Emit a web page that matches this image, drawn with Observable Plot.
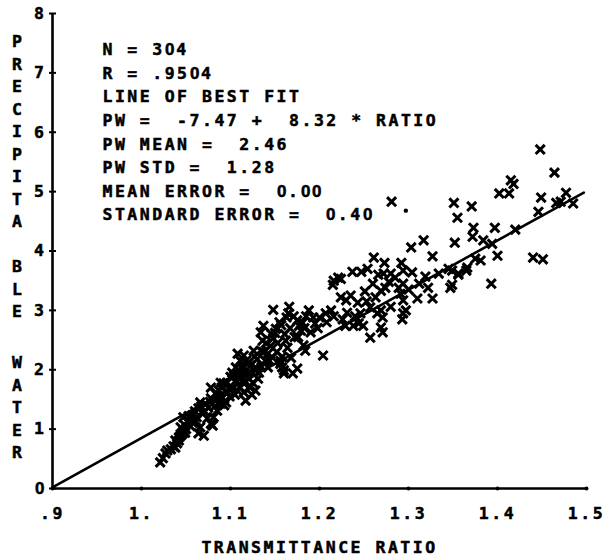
<!DOCTYPE html>
<html><head><meta charset="utf-8">
<script src="https://cdn.jsdelivr.net/npm/d3@7"></script>
<script src="https://cdn.jsdelivr.net/npm/@observablehq/plot@0.6"></script>
<style>
@font-face{font-family:"PlainZero";src:local("Liberation Sans Bold"),local("LiberationSans-Bold");font-weight:700;unicode-range:U+0030;}
body{margin:0;background:#fff;}
#wrap{position:relative;width:604px;height:556px;}
svg text, svg tspan{white-space:pre;letter-spacing:2.5px;stroke:#000;stroke-width:0.5px;}
.ylab{position:absolute;left:10px;width:14px;text-align:center;font-family:"DejaVu Sans Mono",monospace;font-weight:bold;font-size:16.5px;line-height:22.5px;color:#000;-webkit-text-stroke:0.5px #000;}
.ylab div{height:22.5px;}
</style></head><body><div id="wrap"></div>
<script>
// Transmittance ratio (x) and precipitable water (y)
const ratio = [
1.021,1.024,1.027,1.029,1.036,1.038,1.038,1.042,1.042,1.044,1.044,1.047,1.047,1.049,1.049,1.052,1.057,1.061,1.064,1.066,
1.069,1.066,1.064,1.070,1.075,1.080,1.078,1.081,1.078,1.087,1.089,1.085,1.092,1.097,1.091,1.102,1.106,1.109,1.111,1.108,
1.115,1.117,1.120,1.115,1.089,1.078,1.083,1.122,1.128,1.102,1.111,1.115,1.106,1.100,1.117,1.124,1.128,1.131,1.115,1.126,
1.119,1.128,1.139,1.142,1.156,1.158,1.175,1.170,1.134,1.142,1.147,1.156,1.160,1.158,1.160,1.148,1.166,1.165,1.188,1.207,
1.216,1.181,1.179,1.137,1.151,1.190,1.134,1.136,1.162,1.164,1.148,1.182,1.184,1.204,1.163,1.175,1.177,1.215,1.224,1.216,
1.221,1.224,1.230,1.243,1.231,1.246,1.229,1.249,1.238,1.244,1.257,1.271,1.269,1.237,1.247,1.254,1.261,1.273,1.292,1.272,
1.280,1.294,1.304,1.251,1.263,1.269,1.274,1.289,1.257,1.265,1.271,1.280,1.294,1.297,1.269,1.293,1.310,1.327,1.303,1.317,
1.327,1.319,1.334,1.345,1.356,1.365,1.347,1.281,1.294,1.291,1.294,
1.448,1.464,1.415,1.418,1.402,1.413,1.449,1.477,1.466,1.471,1.485,1.446,1.351,1.371,1.355,1.373,1.372,1.397,1.420,1.352,
1.384,1.394,1.400,1.440,1.451,1.375,1.381,1.366,1.356,1.349,1.393,1.349,
1.055,1.060,1.072,1.083,1.095,1.100,1.105,1.113,1.118,1.125,1.130,1.135,1.145,1.152,1.150,1.155,1.168,1.172,1.185,1.195,1.200,
1.033,1.040,1.046,1.050,1.053,1.058,1.062,1.067,1.071,1.074,1.077,1.082,1.086,1.090,1.093,1.096,1.099,1.104,1.107,1.110,
1.112,1.116,1.121,1.123,1.127,1.132,1.137,1.140,1.144,1.146,1.153,1.157,1.161,1.167,1.171,1.176,1.183,1.193,1.198,1.208,
1.213,1.226,1.235,1.240,1.253,1.260,1.266,1.278,1.285,1.300,1.312,1.322
];
const pw = [
0.44,0.51,0.59,0.64,0.71,0.81,0.69,0.81,0.86,0.89,1.03,0.98,1.20,1.06,0.94,1.14,1.23,1.14,1.35,1.45,
1.26,1.03,0.93,0.89,1.36,1.06,1.52,1.20,1.09,1.65,1.43,1.31,1.77,1.62,1.53,1.70,1.82,1.99,2.15,2.27,
2.04,1.48,1.94,1.77,1.78,1.70,1.60,1.70,1.65,1.95,1.70,1.62,2.04,1.66,1.80,1.58,1.99,1.85,2.24,2.32,
2.10,2.04,2.15,2.04,2.15,2.04,2.02,1.94,2.32,2.27,2.21,2.10,1.94,2.22,1.99,3.01,3.06,2.95,3.00,2.95,
2.90,2.79,2.66,2.74,2.69,2.63,2.63,2.49,2.49,2.37,2.53,2.41,2.32,2.24,2.88,2.83,2.74,3.43,3.53,3.50,
3.55,3.22,3.17,3.13,2.96,2.95,2.74,2.74,2.74,2.78,2.54,2.63,2.71,3.65,3.65,3.70,3.89,3.80,3.80,3.62,
3.62,3.67,3.64,3.32,3.22,3.33,3.38,3.38,3.05,2.95,2.88,3.06,3.17,3.00,3.00,2.85,3.20,3.20,4.06,4.18,
3.91,3.57,3.62,3.70,3.60,3.67,3.38,4.83,3.45,3.28,2.95,
5.71,5.32,5.19,5.13,4.97,4.97,4.90,4.98,4.81,4.83,4.80,4.66,4.81,4.75,4.56,4.39,4.24,4.39,4.36,4.14,
4.18,4.12,3.92,3.89,3.86,3.87,3.84,3.72,3.62,3.67,3.45,3.43,
1.05,1.30,1.42,1.48,1.45,1.88,1.58,1.88,2.16,1.78,2.18,2.05,2.40,2.30,2.62,2.80,2.20,2.55,2.90,2.78,2.88,
0.66,0.76,0.92,1.00,1.22,1.10,1.20,1.38,1.30,1.18,1.46,1.38,1.56,1.70,1.40,1.78,1.55,1.90,1.66,1.92,
2.05,1.95,1.85,2.08,2.22,1.95,2.30,2.45,2.15,2.60,2.45,2.75,2.60,2.70,2.90,2.55,2.70,2.88,2.70,2.80,
3.00,2.85,3.25,2.90,3.15,3.45,3.60,3.48,3.55,3.35,3.45,3.38
];
// single small dot mark in the picture
const dotRatio = [1.297];
const dotPw = [4.68];

// regression stats printed on the chart
const nObs = 304, rCoef = ".9504", intercept = -7.47, slope = 8.32;
const pwMean = "2.46", pwStd = "1.28", meanError = "0.00", stdError = "0.40";
const statLines = [
  `N = ${nObs}`,
  `R = ${rCoef}`,
  "LINE OF BEST FIT",
  `PW =  ${intercept.toFixed(2)} +  ${slope.toFixed(2)} * RATIO`,
  `PW MEAN =  ${pwMean}`,
  `PW STD =  ${pwStd}`,
  `MEAN ERROR =  ${meanError}`,
  `STANDARD ERROR =  ${stdError}`
];
const fitRatio = [0.9, 1.497];

const xDomain = [0.9, 1.5];
const yDomain = [0, 8];
const xTicks = [0.9, 1.0, 1.1, 1.2, 1.3, 1.4, 1.5];
const xTickLabels = [".9", "1.", "1.1", "1.2", "1.3", "1.4", "1.5"];
const yTicks = [0, 1, 2, 3, 4, 5, 6, 7, 8];
const yLabelTop = ["P","R","E","C","I","P","I","T","A","","B","L","E"];
const yLabelBottom = ["W","A","T","E","R"];
const xLabel = "TRANSMITTANCE RATIO";

const points = ratio.map((r, i) => ({r, p: pw[i]}));
const dots = dotRatio.map((r, i) => ({r, p: dotPw[i]}));
const fit = fitRatio.map(r => ({r, p: intercept + slope * r}));

const hTick = {draw(ctx, size) { const w = Math.sqrt(size / Math.PI); ctx.moveTo(-w, 0); ctx.lineTo(w, 0); }};

const font = '"PlainZero", "DejaVu Sans Mono", monospace';
const chart = Plot.plot({
  width: 604, height: 556,
  marginLeft: 52, marginRight: 18, marginTop: 13, marginBottom: 68,
  style: {fontFamily: font, fontWeight: "bold", fontSize: "16.5px", background: "white", color: "black"},
  x: {domain: xDomain},
  y: {domain: yDomain},
  marks: [
    Plot.axisX({ticks: xTicks, tickSize: 0, tickPadding: 19, tickFormat: d => xTickLabels[xTicks.findIndex(t => Math.abs(t - d) < 1e-9)], label: null, fill: "black", fontSize: 16.5}),
    Plot.axisY({ticks: yTicks, tickSize: 0, tickPadding: 6, tickFormat: d => String(d), label: null, fill: "black", fontSize: 16.5}),
    Plot.ruleX([xDomain[0]], {stroke: "black", strokeWidth: 2.6}),
    Plot.ruleY([yDomain[0]], {stroke: "black", strokeWidth: 2.6}),
    Plot.dot(yTicks, {y: d => d, frameAnchor: "left", symbol: hTick, r: 3.5, stroke: "black", strokeWidth: 2}),
    Plot.dot(xTicks, {x: d => d, frameAnchor: "bottom", r: 2, fill: "black", stroke: null}),
    Plot.line(fit, {x: "r", y: "p", stroke: "black", strokeWidth: 2.6}),
    Plot.dot(points, {x: "r", y: "p", symbol: "times", r: 4.2, stroke: "black", strokeWidth: 3}),
    Plot.dot(dots, {x: "r", y: "p", r: 2.2, fill: "black", stroke: null}),
    Plot.text([statLines.join("\n")], {frameAnchor: "top-left", dx: 50, dy: 25, lineAnchor: "top", textAnchor: "start", lineHeight: 1.43, fontSize: 16.5, fill: "black"}),
    Plot.text([xLabel], {frameAnchor: "bottom", dy: 59, lineAnchor: "middle", textAnchor: "middle", fontSize: 16.5, fill: "black"})
  ]
});
const wrap = document.getElementById("wrap");
wrap.appendChild(chart);
function addLabel(letters, top) {
  const d = document.createElement("div");
  d.className = "ylab";
  d.style.top = top + "px";
  letters.forEach(c => { const e = document.createElement("div"); e.textContent = c; d.appendChild(e); });
  wrap.appendChild(d);
}
addLabel(yLabelTop, 31);
addLabel(yLabelBottom, 352);
</script></body></html>
